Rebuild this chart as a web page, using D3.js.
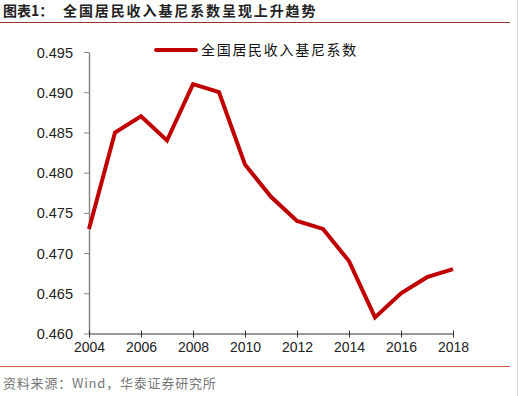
<!DOCTYPE html>
<html>
<head>
<meta charset="utf-8">
<script src="https://cdn.jsdelivr.net/npm/d3@7"></script>
<style>
  body { margin: 0; background: #fff; }
  svg { display: block; }
</style>
</head>
<body>
<svg id="chart" width="520" height="396"></svg>
<script>
// Data
const years = [2004, 2005, 2006, 2007, 2008, 2009, 2010, 2011, 2012, 2013, 2014, 2015, 2016, 2017, 2018];
const gini = [0.473, 0.485, 0.487, 0.484, 0.491, 0.490, 0.481, 0.477, 0.474, 0.473, 0.469, 0.462, 0.465, 0.467, 0.468];
const yTicks = [0.460, 0.465, 0.470, 0.475, 0.480, 0.485, 0.490, 0.495];
const xTicks = [2004, 2006, 2008, 2010, 2012, 2014, 2016, 2018];
const seriesName = "全国居民收入基尼系数";
const titleLabel = "图表1：";
const titleText = "全国居民收入基尼系数呈现上升趋势";
const source = "资料来源：Wind，华泰证券研究所";

const config = {
    margin: { top: 52, left: 89, right: 453, bottom: 333.5 },
    lineColor: "#c00000",
    font: "Arial, 'Liberation Sans', sans-serif",
    cjk: "'Noto Sans CJK SC', sans-serif"
};

const svg = d3.select("#chart");
const { margin } = config;

const x = d3.scaleLinear().domain([2004, 2018]).range([margin.left, margin.right]);
const y = d3.scaleLinear().domain([0.460, 0.495]).range([margin.bottom, margin.top]);

// Title and rules
svg.append("text").attr("x", 3).attr("y", 16)
    .attr("font-family", config.cjk).attr("font-size", 14).attr("font-weight", "bold")
    .attr("fill", "#222").text(titleLabel);
svg.append("text").attr("x", 63).attr("y", 16)
    .attr("font-family", config.cjk).attr("font-size", 14).attr("font-weight", "bold")
    .attr("letter-spacing", 1.9).attr("fill", "#222").text(titleText);
svg.append("line").attr("x1", 0).attr("x2", 510).attr("y1", 22.5).attr("y2", 22.5)
    .attr("stroke", "#a0362b").attr("stroke-width", 1);
svg.append("line").attr("x1", 0).attr("x2", 510).attr("y1", 366.5).attr("y2", 366.5)
    .attr("stroke", "#d0573f").attr("stroke-width", 1);
svg.append("line").attr("x1", 517.5).attr("x2", 517.5).attr("y1", 0).attr("y2", 396)
    .attr("stroke", "#ddd").attr("stroke-width", 1);

// Y axis
const yAxis = svg.append("g").attr("transform", `translate(${margin.left},0)`)
    .call(d3.axisLeft(y).tickValues(yTicks).tickFormat(d3.format(".3f")).tickSize(5).tickSizeOuter(0));
yAxis.select(".domain").attr("stroke", "#888").attr("stroke-width", 1.5);
yAxis.selectAll(".tick line").attr("stroke", "#888");
yAxis.selectAll(".tick text").attr("x", -16).attr("dy", "0.35em")
    .attr("font-family", config.font).attr("font-size", 14.5).attr("fill", "#222");

// X axis
const xAxis = svg.append("g").attr("transform", `translate(0,${margin.bottom})`)
    .call(d3.axisBottom(x).tickValues(xTicks).tickFormat(d3.format("d")).tickSize(4).tickSizeOuter(0));
xAxis.select(".domain").attr("stroke", "#333").attr("stroke-width", 1);
xAxis.selectAll(".tick line").attr("stroke", "#333").attr("y1", -3);
xAxis.selectAll(".tick text").attr("y", 9).attr("dy", "0.71em")
    .attr("font-family", config.font).attr("font-size", 14).attr("fill", "#222");

// Line
const line = d3.line().x((d, i) => x(years[i])).y(d => y(d));
svg.append("path").datum(gini)
    .attr("fill", "none").attr("stroke", config.lineColor)
    .attr("stroke-width", 4).attr("stroke-linejoin", "miter")
    .attr("d", line);

// Legend
const legend = svg.append("g").attr("transform", "translate(156,50)");
legend.append("line").attr("x1", 0).attr("x2", 40).attr("y1", 0).attr("y2", 0)
    .attr("stroke", config.lineColor).attr("stroke-width", 4).attr("stroke-linecap", "round");
legend.append("text").attr("x", 45).attr("y", 5)
    .attr("font-family", config.cjk).attr("font-size", 14).attr("letter-spacing", 1.7)
    .attr("fill", "#111").text(seriesName);

// Source
svg.append("text").attr("x", 3).attr("y", 388)
    .attr("font-family", config.cjk).attr("font-size", 13).attr("letter-spacing", 0.8)
    .attr("fill", "#777").text(source);
</script>
</body>
</html>
